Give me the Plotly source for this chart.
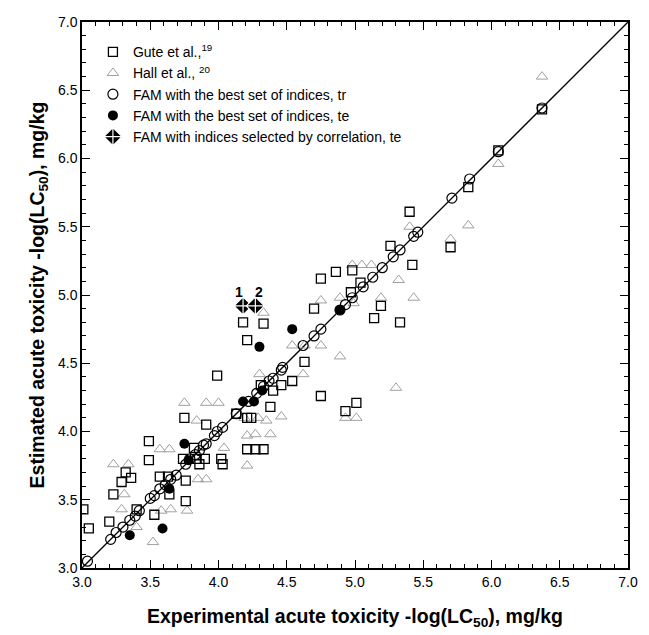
import plotly.graph_objects as go

# Gute et al. (open squares)
gute_x = [3.01, 3.05, 3.20, 3.23, 3.29, 3.32, 3.36, 3.40, 3.49, 3.49, 3.53, 3.57, 3.63, 3.64,
          3.75, 3.74, 3.76, 3.76, 3.82, 3.84, 3.86, 3.90, 3.91, 3.99, 4.02, 4.03, 4.13,
          4.18, 4.21, 4.21, 4.24, 4.21, 4.27, 4.33, 4.33, 4.31, 4.40, 4.46, 4.54, 4.38,
          4.63, 4.70, 4.75, 4.75, 4.86, 4.93, 5.01, 4.98, 5.04, 4.97, 5.14, 5.33, 5.19,
          5.26, 5.42, 5.40, 5.70, 5.83, 6.05, 6.37]
gute_y = [3.43, 3.29, 3.34, 3.54, 3.63, 3.70, 3.66, 3.43, 3.93, 3.79, 3.39, 3.67, 3.67, 3.54,
          4.10, 3.80, 3.64, 3.49, 3.88, 3.80, 3.76, 3.80, 4.05, 4.41, 3.80, 3.76, 4.13,
          4.80, 4.67, 4.10, 4.10, 3.87, 3.87, 3.87, 4.79, 4.34, 4.30, 4.34, 4.37, 4.18,
          4.51, 4.90, 4.26, 5.12, 5.17, 4.15, 4.21, 5.18, 5.09, 5.02, 4.83, 4.80, 4.92,
          5.36, 5.22, 5.61, 5.35, 5.79, 6.06, 6.36]

# Hall et al. (open triangles, grey)
hall_x = [3.23, 3.34, 3.29, 3.31, 3.40, 3.52, 3.57, 3.64, 3.58, 3.65, 3.77, 3.85, 3.91,
          3.75, 3.91, 4.00, 3.84, 4.04, 4.21, 4.21, 4.27, 4.38, 4.19, 4.29, 4.35, 4.46,
          4.30, 4.62, 4.33, 4.54, 4.63, 4.75, 4.75, 4.89, 4.99, 4.89, 4.93, 5.01, 5.30,
          4.98, 5.05, 5.12, 5.32, 5.43, 5.19, 5.40, 5.70, 5.83, 6.05, 6.37]
hall_y = [3.76, 3.76, 3.43, 3.54, 3.30, 3.19, 3.87, 3.87, 3.42, 3.43, 3.42, 3.65, 3.65,
          4.21, 4.21, 4.21, 4.08, 3.88, 3.75, 3.97, 3.98, 3.98, 4.10, 4.10, 4.08, 4.11,
          4.42, 4.42, 4.87, 4.63, 4.63, 4.63, 4.96, 4.98, 4.94, 4.55, 4.10, 4.10, 4.32,
          5.22, 5.22, 5.22, 5.11, 4.98, 4.98, 5.50, 5.41, 5.51, 5.96, 6.60]

# FAM with the best set of indices, training (open circles)
tr_x = [3.04, 3.21, 3.25, 3.30, 3.35, 3.39, 3.42, 3.50, 3.53, 3.57, 3.61, 3.65, 3.69, 3.76,
        3.79, 3.83, 3.86, 3.89, 3.91, 3.97, 3.99, 4.03, 4.13, 4.22, 4.28, 4.33, 4.37, 4.40,
        4.46, 4.47, 4.62, 4.70, 4.75, 4.89, 4.93, 4.98, 5.06, 5.13, 5.20, 5.28, 5.33, 5.43,
        5.46, 5.71, 5.84, 6.05, 6.37]
tr_y = [3.05, 3.21, 3.26, 3.30, 3.35, 3.38, 3.42, 3.51, 3.53, 3.58, 3.61, 3.65, 3.68, 3.76,
        3.80, 3.83, 3.86, 3.90, 3.91, 3.97, 4.00, 4.03, 4.13, 4.22, 4.28, 4.33, 4.37, 4.39,
        4.45, 4.47, 4.63, 4.70, 4.75, 4.89, 4.93, 4.98, 5.06, 5.13, 5.20, 5.28, 5.33, 5.43,
        5.46, 5.71, 5.85, 6.05, 6.37]

# FAM with the best set of indices, test (filled circles)
te_x = [3.35, 3.59, 3.64, 3.75, 3.78, 4.18, 4.26, 4.32, 4.30, 4.54, 4.89]
te_y = [3.24, 3.29, 3.58, 3.91, 3.79, 4.22, 4.22, 4.30, 4.62, 4.75, 4.89]

# FAM with indices selected by correlation, test (diamonds)
corr_x = [4.18, 4.27]
corr_y = [4.92, 4.92]
corr_labels = ["1", "2"]

# identity line
line_x = [3.0, 7.0]
line_y = [3.0, 7.0]

axis_ticks = [3.0, 3.5, 4.0, 4.5, 5.0, 5.5, 6.0, 6.5, 7.0]

FONT = "Liberation Sans, Arial, sans-serif"

fig = go.Figure()
fig.add_trace(go.Scatter(x=line_x, y=line_y, mode="lines",
                         line=dict(color="black", width=1.3), showlegend=False,
                         hoverinfo="skip"))
fig.add_trace(go.Scatter(x=hall_x, y=hall_y, mode="markers", name="Hall et al., <sup>20</sup>",
                         legendrank=2,
                         marker=dict(symbol="triangle-up-open", size=10, color="#a0a0a0",
                                     line=dict(width=1))))
fig.add_trace(go.Scatter(x=gute_x, y=gute_y, mode="markers", name="Gute et al.,<sup>19</sup>",
                         legendrank=1,
                         marker=dict(symbol="square-open", size=9, color="black",
                                     line=dict(width=1.3))))
fig.add_trace(go.Scatter(x=tr_x, y=tr_y, mode="markers",
                         name="FAM with the best set of indices, tr", legendrank=3,
                         marker=dict(symbol="circle-open", size=10, color="black",
                                     line=dict(width=1.2))))
fig.add_trace(go.Scatter(x=te_x, y=te_y, mode="markers",
                         name="FAM with the best set of indices, te", legendrank=4,
                         marker=dict(symbol="circle", size=10, color="black")))
fig.add_trace(go.Scatter(x=corr_x, y=corr_y, mode="markers",
                         name="FAM with indices selected by correlation, te", legendrank=5,
                         marker=dict(symbol="diamond-cross", size=14, color="black",
                                     line=dict(color="white", width=1.2))))

for lx, ly, lt in zip(corr_x, corr_y, corr_labels):
    fig.add_annotation(x=lx, y=ly, text="<b>" + lt + "</b>", showarrow=False,
                       yshift=14, xshift=-4 if lt == "1" else 4,
                       font=dict(family=FONT, size=14, color="black"))

axis_common = dict(range=[3.0, 7.0], tickvals=axis_ticks, tickformat=".1f",
                   ticks="inside", ticklen=8, tickwidth=1, tickcolor="black",
                   showline=True, linecolor="black", linewidth=1.5, mirror="ticks",
                   showgrid=False, zeroline=False,
                   minor=dict(dtick=0.1, ticks="inside", ticklen=4, tickcolor="black",
                              tickwidth=1, showgrid=False),
                   tickfont=dict(family=FONT, size=14, color="black"))

fig.update_xaxes(**axis_common,
                 title=dict(text="<b>Experimental acute toxicity -log(LC<sub>50</sub>), mg/kg</b>",
                            font=dict(family=FONT, size=19.5, color="black"), standoff=21))
fig.update_yaxes(**axis_common,
                 title=dict(text="<b>Estimated acute toxicity -log(LC<sub>50</sub>), mg/kg</b>",
                            font=dict(family=FONT, size=19.5, color="black"), standoff=8))

fig.update_layout(
    width=649, height=635,
    margin=dict(l=82, r=11, t=22, b=64),
    paper_bgcolor="white", plot_bgcolor="white",
    legend=dict(x=0.02, y=0.974, xanchor="left", yanchor="top",
                traceorder="normal", bgcolor="rgba(0,0,0,0)",
                font=dict(family=FONT, size=14, color="black"),
                tracegroupgap=0, itemwidth=30),
)

fig.write_html("out.html")
